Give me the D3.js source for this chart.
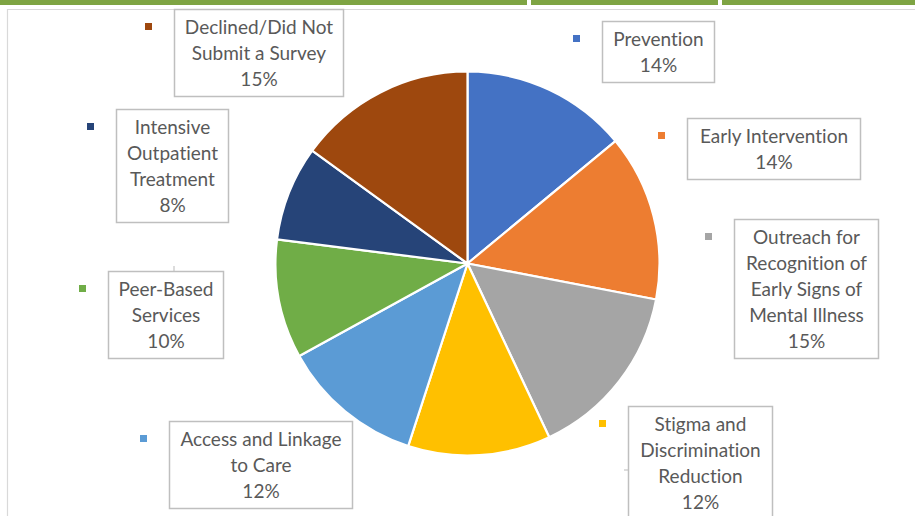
<!DOCTYPE html>
<html>
<head>
<meta charset="utf-8">
<script src="https://cdn.jsdelivr.net/npm/d3@7"></script>
<style>
  html, body { margin: 0; padding: 0; background: #fff; }
  svg { display: block; }
  text { font-variant-ligatures: none; font-feature-settings: "liga" 0, "dlig" 0; }
</style>
</head>
<body>
<svg id="chart" width="915" height="516"></svg>
<script>
// Program spending share by category, clockwise from 12 o'clock
const categories = [
  "Prevention",
  "Early Intervention",
  "Outreach for Recognition of Early Signs of Mental Illness",
  "Stigma and Discrimination Reduction",
  "Access and Linkage to Care",
  "Peer-Based Services",
  "Intensive Outpatient Treatment",
  "Declined/Did Not Submit a Survey"
];
const shares = [14, 14, 15, 12, 12, 10, 8, 15];

// How each category name wraps inside its label box
const labelLines = [
  ["Prevention"],
  ["Early Intervention"],
  ["Outreach for", "Recognition of", "Early Signs of", "Mental Illness"],
  ["Stigma and", "Discrimination", "Reduction"],
  ["Access and Linkage", "to Care"],
  ["Peer-Based", "Services"],
  ["Intensive", "Outpatient", "Treatment"],
  ["Declined/Did Not", "Submit a Survey"]
];

const colors = ["#4472C4", "#ED7D31", "#A5A5A5", "#FFC000", "#5B9BD5", "#70AD47", "#264478", "#9E480E"];

// Label box placement (left, top, width)
const boxLayout = [
  [602, 21, 112],
  [687, 118, 173],
  [734, 219, 144],
  [628, 406, 144],
  [169, 421, 183],
  [108, 271, 115],
  [116, 109, 112],
  [174, 9, 169]
];

const svg = d3.select("#chart");
const W = 915, H = 516;

// Header strip
const strip = [[0, 527], [531, 718], [722, 915]];
svg.selectAll("rect.strip").data(strip).join("rect")
  .attr("class", "strip")
  .attr("x", d => d[0]).attr("y", 0)
  .attr("width", d => d[1] - d[0]).attr("height", 5)
  .attr("fill", "#7EA443");

// Chart frame
svg.append("path")
  .attr("d", `M7.5,${H} V9.5 H${W}`)
  .attr("fill", "none")
  .attr("stroke", "#D9D9D9")
  .attr("stroke-width", 1.2);

// Pie
const cx = 467.5, cy = 263.5, r = 192;
const pie = d3.pie().sort(null).value(d => d.value);
const arcs = pie(categories.map((c, i) => ({ name: c, value: shares[i], i })));
const arc = d3.arc().innerRadius(0).outerRadius(r);

svg.append("g")
  .attr("transform", `translate(${cx},${cy})`)
  .selectAll("path").data(arcs).join("path")
  .attr("d", arc)
  .attr("fill", d => colors[d.data.i])
  .attr("stroke", "#fff")
  .attr("stroke-width", 2.2)
  .attr("stroke-linejoin", "round");

// Short leader-line stubs peeking out from behind two label boxes
const stubs = [[174, 266, 174, 271], [624, 470, 628, 470]];
svg.selectAll("line.stub").data(stubs).join("line")
  .attr("class", "stub")
  .attr("x1", d => d[0]).attr("y1", d => d[1])
  .attr("x2", d => d[2]).attr("y2", d => d[3])
  .attr("stroke", "#D0D0D0")
  .attr("stroke-width", 1.5);

// Data labels
const lineH = 26;
const labels = svg.append("g")
  .selectAll("g").data(arcs).join("g");

labels.each(function (d) {
  const i = d.data.i;
  const [bx, by, bw] = boxLayout[i];
  const lines = labelLines[i].concat([d3.format(".0%")(d.data.value / 100)]);
  const bh = (lines.length - 1) * lineH + 35;
  const g = d3.select(this);

  g.append("rect")
    .attr("x", bx + 0.5).attr("y", by + 0.5)
    .attr("width", bw).attr("height", bh)
    .attr("fill", "#fff")
    .attr("stroke", "#BFBFBF")
    .attr("stroke-width", 1.5);

  g.append("rect")
    .attr("x", bx - 29).attr("y", by + 14)
    .attr("width", 7).attr("height", 7)
    .attr("fill", colors[i]);

  g.append("text")
    .attr("font-family", "Lato, 'Open Sans', sans-serif")
    .attr("font-size", 19)
    .attr("fill", "#595959")
    .attr("text-anchor", "middle")
    .selectAll("tspan").data(lines).join("tspan")
    .attr("x", bx + bw / 2 + 0.5)
    .attr("y", (t, k) => by + 18 + k * lineH)
    .attr("dy", "0.35em")
    .text(t => t);
});
</script>
</body>
</html>
